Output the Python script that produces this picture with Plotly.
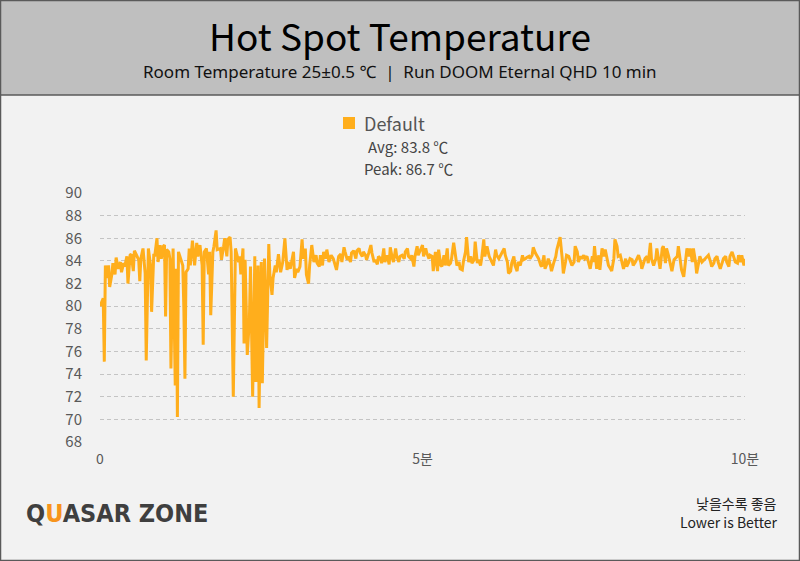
import plotly.graph_objects as go

# ---------------- data (time in seconds, hot spot temperature in °C) ----------------
seg1_t = [0, 1, 2, 3, 4, 5, 7, 8, 9, 11, 12, 14, 15, 17, 19, 20, 22, 23, 25, 26, 28, 29, 31, 32, 34, 36, 37, 38,
          40, 42, 43, 45, 47, 48, 50, 51, 53, 54, 56, 57, 59, 60, 61, 62, 64, 65, 66, 68, 70, 71, 72, 73, 75, 77,
          78, 79, 80, 82, 83, 84, 86, 88, 90, 91, 93, 95, 96, 97]
seg1_v = [80.0, 80.3, 80.6, 80.7, 75.1, 83.6, 82.5, 83.6, 81.7, 82.8, 83.8, 82.8, 84.3, 83.3, 83.9, 83.0, 83.8, 83.5,
          84.4, 82.0, 84.5, 84.6, 83.1, 84.9, 84.5, 84.1, 82.2, 84.2, 85.1, 82.9, 75.2, 85.1, 83.6, 79.5, 84.5, 84.5,
          86.0, 83.9, 85.4, 84.2, 85.3, 85.4, 79.1, 85.0, 84.8, 84.2, 74.5, 85.1, 73.0, 83.3, 70.2, 84.8, 84.2, 83.6,
          79.8, 73.6, 83.0, 83.3, 85.1, 83.6, 85.8, 83.6, 85.6, 84.4, 85.4, 83.6, 76.6, 84.8]

seg2_t = [99, 101, 102, 103, 105, 106, 108, 109, 112, 113, 115, 116, 118, 119, 121, 122, 124, 126, 127, 129, 130,
          131, 133, 134, 135, 137, 139, 140, 142, 144, 145, 147, 148, 150, 151, 153, 155, 157, 158, 160, 161, 163,
          164, 166, 168, 170, 172, 174, 175, 177, 178, 180, 181, 183, 184, 186, 188, 189, 191]
seg2_v = [85.1, 82.8, 84.8, 79.2, 84.8, 85.3, 86.7, 85.0, 85.1, 84.1, 85.3, 86.0, 84.4, 85.9, 86.1, 84.8, 72.0, 85.1,
          84.7, 83.9, 84.4, 82.8, 85.1, 76.7, 84.1, 75.7, 78.9, 83.5, 72.0, 84.4, 73.3, 83.6, 71.0, 83.9, 73.2, 84.2,
          76.3, 85.5, 82.8, 81.0, 82.5, 83.6, 83.0, 84.6, 83.0, 83.9, 86.0, 83.2, 83.9, 83.3, 83.8, 84.8, 82.5, 83.3,
          83.0, 83.5, 85.9, 84.2, 85.1]

seg3_t = [192, 194, 195, 197, 199, 201, 202, 204, 205, 207, 208, 210, 211, 213, 215, 217, 219, 220, 222, 224, 225,
          227, 228, 230, 231, 233, 234, 236, 238, 239, 241, 242, 244, 245, 247, 248, 250, 252, 253, 255, 256, 258,
          259, 261, 262, 264, 265, 267, 269, 270, 272, 273, 275, 276, 278, 279, 281, 283, 284, 286, 287, 289, 290,
          292, 293, 295, 296, 298, 300, 301, 303, 304, 306, 307, 309, 310, 312, 314, 315, 317, 318, 320, 321, 323, 324]
seg3_v = [82.8, 82.0, 83.6, 85.4, 83.9, 84.5, 83.8, 83.5, 84.5, 83.6, 84.8, 84.2, 85.0, 83.9, 84.5, 84.2, 83.6, 83.2,
          84.4, 84.6, 83.9, 85.2, 84.8, 84.1, 84.4, 83.9, 84.7, 84.9, 84.2, 84.9, 85.1, 84.7, 84.4, 84.8, 84.5, 84.1,
          84.7, 85.4, 84.7, 83.9, 84.1, 83.7, 84.4, 84.2, 83.8, 85.1, 83.9, 84.5, 83.7, 85.2, 84.2, 83.9, 85.1, 84.4,
          83.9, 84.4, 84.5, 84.2, 84.8, 85.1, 84.4, 84.2, 84.5, 83.5, 84.4, 85.3, 84.5, 84.9, 85.4, 84.4, 85.1, 84.7,
          84.2, 84.5, 84.4, 83.1, 84.8, 83.1, 85.0, 83.6, 83.5, 84.5, 83.6, 85.1, 83.6]

seg4_t = [326, 327, 329, 331, 332, 334, 335, 337, 338, 340, 341, 343, 345, 346, 348, 349, 351, 352, 354, 355, 357,
          358, 360, 362, 363, 365, 366, 368, 369, 371, 372, 374, 376, 377, 379, 380, 382, 383, 385, 386, 388, 389,
          391, 393, 394, 396, 397, 399, 400, 402, 403, 405, 407, 408, 410, 411, 413, 414, 416, 417, 419, 420, 422,
          424, 425, 427, 428, 430, 431, 433, 434, 436, 438, 439, 441, 442, 444, 445, 447, 448, 450, 451, 453, 455,
          456, 458, 459]
seg4_v = [83.8, 84.2, 85.6, 84.2, 83.6, 83.9, 83.3, 83.2, 83.9, 84.8, 86.1, 83.9, 84.4, 83.8, 84.1, 85.7, 83.8, 84.1,
          83.6, 84.2, 85.9, 84.4, 85.3, 84.4, 84.2, 83.8, 83.6, 85.0, 84.5, 84.2, 84.4, 84.7, 85.1, 84.5, 83.9, 82.9,
          83.1, 83.8, 84.4, 83.6, 83.1, 83.9, 83.6, 84.5, 84.1, 84.2, 84.3, 84.4, 84.2, 84.5, 85.2, 84.7, 84.4, 84.2,
          83.6, 83.5, 84.5, 83.3, 83.8, 84.2, 83.6, 83.1, 83.8, 84.4, 85.0, 85.9, 86.1, 84.2, 82.9, 83.9, 84.5, 84.4,
          83.8, 83.6, 83.9, 85.3, 84.8, 83.9, 84.4, 84.2, 84.5, 84.2, 84.4, 83.6, 83.3, 84.4, 83.9]

seg5_t = [460, 462, 464, 465, 467, 469, 470, 472, 473, 475, 476, 478, 479, 481, 482, 484, 486, 487, 489, 490, 492,
          493, 495, 496, 498, 500, 501, 503, 504, 506, 507, 509, 510, 512, 513, 515, 517, 518, 520, 521, 523, 524,
          526, 527, 529, 531, 532, 534, 535, 537, 538, 540, 541, 543, 544, 546, 548, 549, 551, 552, 554, 555, 557,
          558, 560, 562, 563, 565, 566, 568, 569, 571, 572, 574, 575, 577, 579, 580, 582, 583, 585, 586, 588, 589,
          591, 593, 594, 596, 597, 599, 600]
seg5_v = [85.3, 83.3, 84.5, 83.2, 85.1, 84.4, 85.0, 83.9, 83.6, 83.3, 83.1, 84.2, 85.9, 85.3, 84.4, 84.5, 83.8, 83.3,
          84.2, 83.5, 83.9, 84.2, 84.1, 83.6, 83.9, 84.4, 84.5, 83.9, 83.3, 83.9, 84.2, 84.4, 83.8, 85.6, 84.2, 83.6,
          84.2, 85.1, 83.9, 83.3, 85.1, 85.3, 83.8, 85.1, 84.4, 83.6, 83.1, 84.1, 84.2, 84.4, 85.3, 83.8, 83.2, 82.6,
          83.6, 85.1, 84.4, 85.1, 83.9, 85.1, 83.9, 82.9, 83.9, 84.4, 83.9, 84.1, 84.2, 84.4, 84.5, 83.9, 83.5, 83.8,
          84.2, 84.4, 83.9, 83.3, 83.9, 84.2, 84.4, 83.9, 83.5, 84.4, 84.8, 84.5, 83.9, 83.8, 84.5, 83.9, 84.5, 83.6,
          84.2]

time_s = seg1_t + seg2_t + seg3_t + seg4_t + seg5_t
temp_c = seg1_v + seg2_v + seg3_v + seg4_v + seg5_v

series_name = "Default"
avg_label = "Avg: 83.8 \u2103"
peak_label = "Peak: 86.7 \u2103"
x_tickvals = [0, 300, 600]
x_ticktext = ["0", "5분", "10분"]
y_tickvals = [68, 70, 72, 74, 76, 78, 80, 82, 84, 86, 88, 90]

title_text = "Hot Spot Temperature"
subtitle_text = "Room Temperature 25\u00b10.5 \u2103  |  Run DOOM Eternal QHD 10 min"

# ---------------- styling ----------------
W, H = 800, 561
L, R, T, B = 100, 55, 193, 119
ORANGE = "#FFAE1C"
FONT = "Noto Sans CJK KR, Noto Sans, sans-serif"
LATIN = "Noto Sans, Noto Sans CJK KR, sans-serif"


def pxx(x):
    return (x - L) / (W - L - R)


def pxy(y):
    return (H - B - y) / (H - T - B)


fig = go.Figure()
fig.add_trace(go.Scatter(
    x=time_s, y=temp_c, mode="lines", name=series_name,
    line=dict(color=ORANGE, width=3), showlegend=False, hoverinfo="skip",
))

shapes = [
    # header band
    dict(type="rect", xref="paper", yref="paper", x0=pxx(0), x1=pxx(W), y0=pxy(95), y1=pxy(0),
         fillcolor="#bfbfbf", line=dict(width=0), layer="below"),
    dict(type="line", xref="paper", yref="paper", x0=pxx(0), x1=pxx(W), y0=pxy(95), y1=pxy(95),
         line=dict(color="#5a5a5a", width=1.5)),
    # outer border
    dict(type="rect", xref="paper", yref="paper", x0=pxx(0.5), x1=pxx(W - 0.5), y0=pxy(H - 0.5), y1=pxy(0.5),
         fillcolor="rgba(0,0,0,0)", line=dict(color="#5a5a5a", width=1.5)),
    # legend swatch
    dict(type="rect", xref="paper", yref="paper", x0=pxx(343), x1=pxx(355), y0=pxy(129), y1=pxy(117),
         fillcolor=ORANGE, line=dict(width=0)),
]

ann = [
    dict(text=title_text, x=pxx(400), y=pxy(35), font=dict(size=37, color="#000000", family=FONT)),
    dict(text=subtitle_text, x=pxx(400), y=pxy(72), font=dict(size=17, color="#111111", family=LATIN)),
    dict(text=series_name, x=pxx(362), y=pxy(123), xanchor="left", font=dict(size=18, color="#555555", family=FONT)),
    dict(text=avg_label, x=pxx(366), y=pxy(146), xanchor="left", font=dict(size=15, color="#444444", family=FONT)),
    dict(text=peak_label, x=pxx(362), y=pxy(168), xanchor="left", font=dict(size=15, color="#444444", family=FONT)),
    dict(text="Q<span style='color:#F7941D'>U</span>ASAR ZONE", x=pxx(24), y=pxy(513), xanchor="left",
         font=dict(size=25, color="#3f3f3f", family="DejaVu Sans Condensed, sans-serif", weight="bold")),
    dict(text="낮을수록 좋음", x=pxx(779), y=pxy(503), xanchor="right",
         font=dict(size=14, color="#222222", family=FONT)),
    dict(text="Lower is Better", x=pxx(779), y=pxy(522), xanchor="right",
         font=dict(size=14, color="#222222", family=FONT)),
]
for a in ann:
    a.update(xref="paper", yref="paper", showarrow=False)
    a.setdefault("xanchor", "center")
    a.setdefault("yanchor", "middle")

fig.update_layout(
    width=W, height=H,
    margin=dict(l=L, r=R, t=T, b=B),
    paper_bgcolor="#f2f2f2", plot_bgcolor="#f2f2f2",
    shapes=shapes, annotations=ann,
    font=dict(family=FONT, color="#595959"),
    xaxis=dict(range=[0, 600], tickvals=x_tickvals, ticktext=x_ticktext, showgrid=False, zeroline=False,
               showline=False, ticks="outside", ticklen=4, tickcolor="rgba(0,0,0,0)",
               tickfont=dict(size=14, color="#595959", family=FONT)),
    yaxis=dict(range=[68, 90], tickvals=y_tickvals, showgrid=True, gridcolor="#c4c4c4", griddash="4px,3px",
               gridwidth=1, zeroline=False, showline=False, ticks="outside", ticklen=14,
               tickcolor="rgba(0,0,0,0)", tickfont=dict(size=15, color="#595959", family=FONT)),
)

fig.write_html("out.html")
